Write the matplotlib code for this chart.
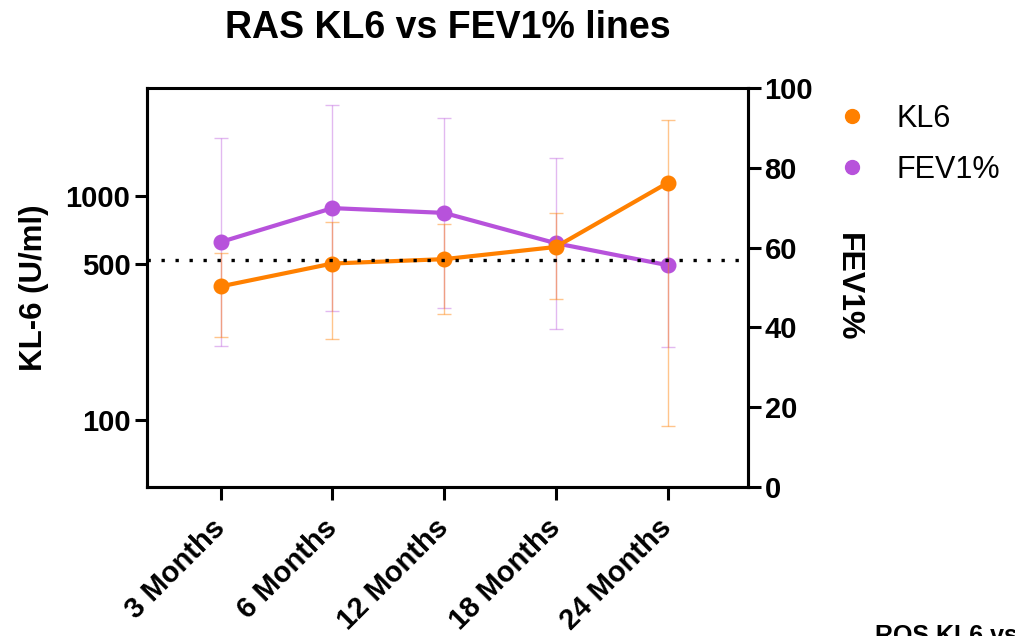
import matplotlib
matplotlib.use("Agg")
import matplotlib.pyplot as plt
from matplotlib.lines import Line2D
import numpy as np

plt.rcParams['font.family'] = ['Liberation Sans', 'DejaVu Sans']
plt.rcParams['font.weight'] = 'bold'

categories = ["3 Months", "6 Months", "12 Months", "18 Months", "24 Months"]
kl6_mean = [395, 500, 523, 593, 1147]
kl6_sd = [160, 270, 226, 247, 1053]
fev1_mean = [61.4, 69.9, 68.7, 61.1, 55.6]
fev1_sd = [26.1, 25.9, 23.9, 21.4, 20.4]
kl6_threshold = 520

orange = '#FF8000'
purple = '#B752DB'

fig = plt.figure(figsize=(10.15, 6.36), dpi=100)
ax = fig.add_axes([0.1448, 0.2343, 0.5921, 0.6273])
ax2 = ax.twinx()
ax.set_zorder(ax2.get_zorder() + 1)
ax.patch.set_visible(False)

x = np.arange(len(categories))

# FEV1% (right axis)
ax2.errorbar(x, fev1_mean, yerr=fev1_sd, fmt='none', ecolor=purple, alpha=0.4,
             elinewidth=1.0, capsize=5, capthick=1.0)
ax2.plot(x, fev1_mean, color=purple, lw=3.0, marker='o', ms=10.5)

# KL6 (left axis)
ax.errorbar(x, kl6_mean, yerr=kl6_sd, fmt='none', ecolor=orange, alpha=0.45,
            elinewidth=1.0, capsize=5, capthick=1.0)
ax.plot(x, kl6_mean, color=orange, lw=3.0, marker='o', ms=10.5)
ax.axhline(kl6_threshold, color='black', ls=(0, (1, 3.2)), lw=2.4, zorder=5)

ax.set_yscale('log')
ax.set_ylim(50, 3050)
ax.set_yticks([100, 500, 1000])
ax.set_yticklabels(['100', '500', '1000'])
ax.yaxis.set_minor_locator(matplotlib.ticker.NullLocator())
ax.set_xlim(-0.66, 4.72)
ax.set_xticks(x)
ax.set_xticklabels(categories, rotation=45, ha='right', va='center',
                   rotation_mode='anchor', fontsize=18.5, fontweight='bold')

ax2.set_ylim(0, 100)
ax2.set_yticks([0, 20, 40, 60, 80, 100])

for a in (ax, ax2):
    for s in a.spines.values():
        s.set_linewidth(2.2)
    a.spines['top'].set_visible(False)
    a.tick_params(axis='both', which='major', length=9, width=2.2, labelsize=21)
ax.tick_params(axis='x', pad=17.5)
ax.tick_params(axis='y', pad=3)
ax2.tick_params(axis='y', pad=3)
ax.spines['top'].set_visible(True)
for lab in ax.get_yticklabels() + ax2.get_yticklabels():
    lab.set_fontweight('bold')

ax.set_ylabel('KL-6 (U/ml)', fontsize=22.5, fontweight='bold', labelpad=12)
ax2.set_ylabel('FEV1%', fontsize=23, fontweight='bold', rotation=-90, labelpad=36)

ax.set_title('RAS KL6 vs FEV1% lines', fontsize=27, fontweight='bold', pad=36)

handles = [Line2D([], [], color=orange, marker='o', ls='none', ms=10),
           Line2D([], [], color=purple, marker='o', ls='none', ms=10)]
fig.legend(handles, ['KL6', 'FEV1%'], loc='upper left', bbox_to_anchor=(0.797, 0.88),
           frameon=False, prop={'size': 22, 'weight': 'normal'}, handletextpad=0.95,
           labelspacing=0.68, handlelength=1.0)

fig.text(0.862, -0.011, 'ROS KL6 vs FEV1% lines', fontsize=18, fontweight='bold',
         va='baseline', ha='left')

fig.savefig('out.png', dpi=100)
